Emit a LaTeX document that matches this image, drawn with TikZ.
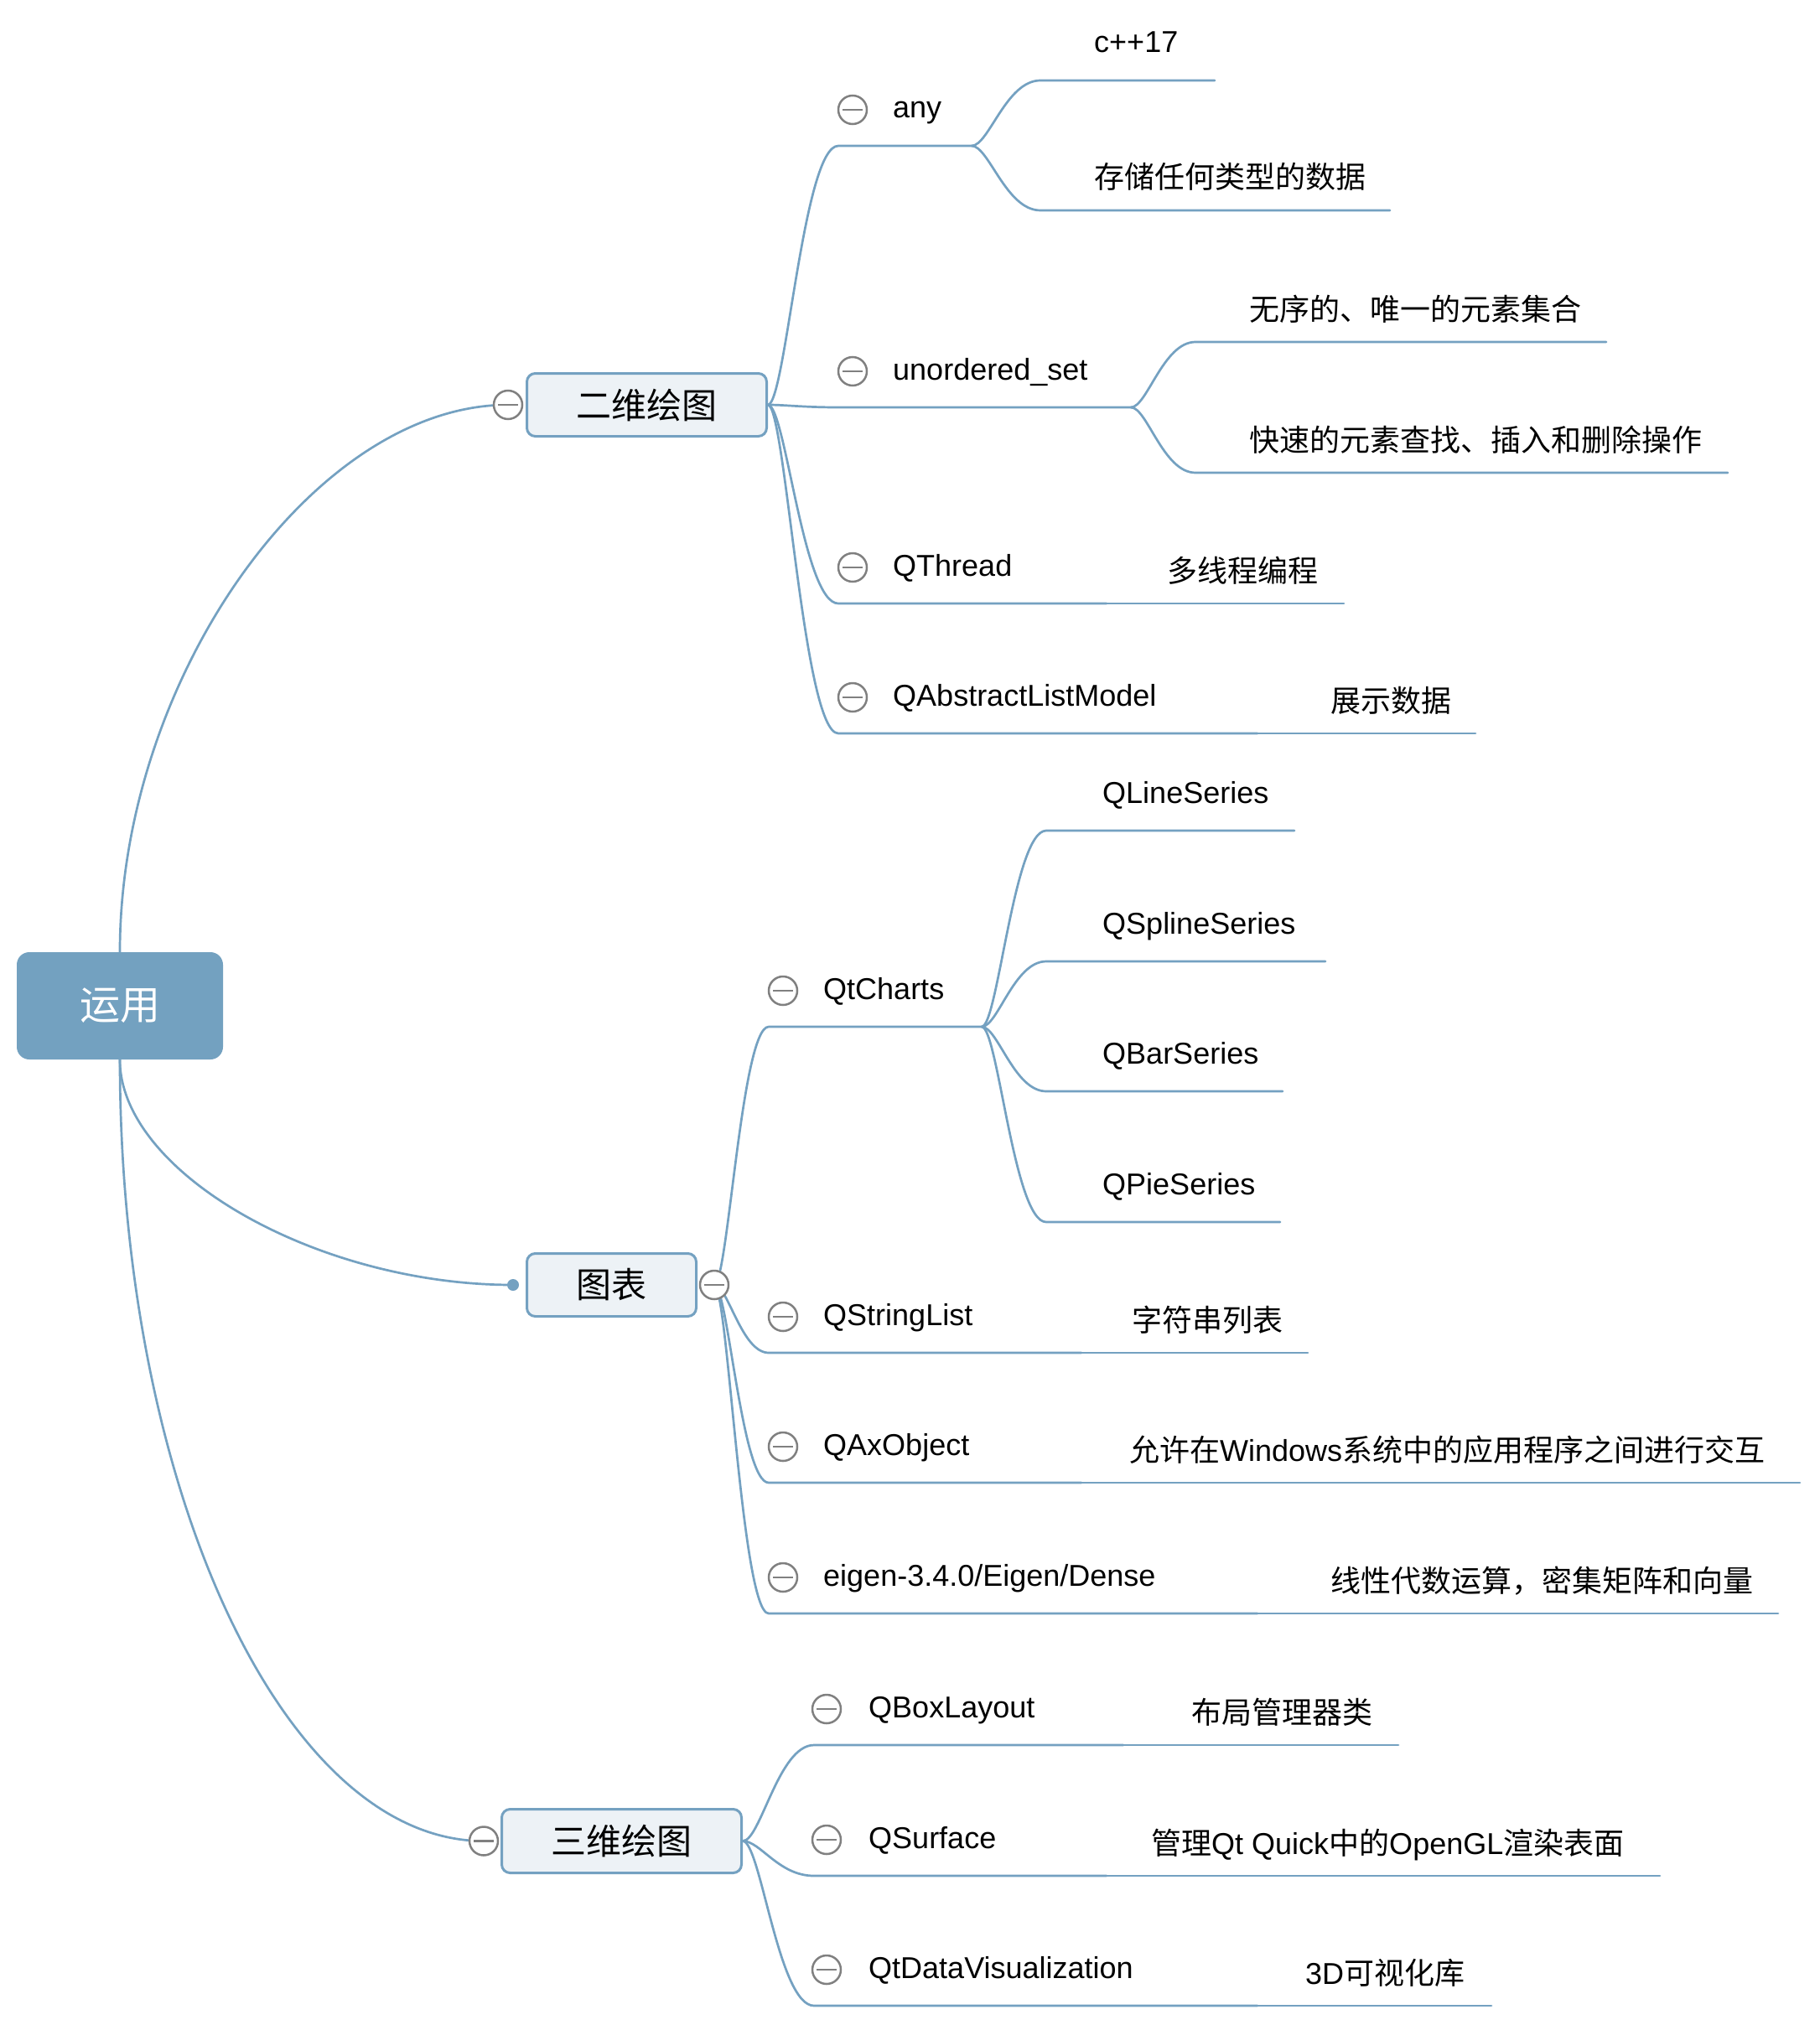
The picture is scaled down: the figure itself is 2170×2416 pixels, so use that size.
\documentclass[tikz,border=0pt]{standalone}
\usepackage{fontspec}
\setmainfont{Liberation Sans}
\newfontfamily\cjk{Noto Sans CJK SC}
\usetikzlibrary{calc}
\definecolor{conncol}{RGB}{116,161,193}
\definecolor{rootfill}{RGB}{115,161,192}
\definecolor{boxfill}{RGB}{237,242,246}
\definecolor{foldgray}{RGB}{128,128,128}
\pgfdeclarelayer{bg}
\pgfsetlayers{bg,main}
\newcommand\branch[3]{\draw[conn] (#1) .. controls ($(#1)!0.25!(#1 -| #2)$) and ($(#2 -| #1)!0.5!(#2)$) .. (#2) -- (#3);}
\newcommand\rootlink[3]{\draw[conn] (#1) .. controls ($(#1)!#3!(#1 |- #2)$) and ($(#2)!#3!(#1 |- #2)$) .. (#2);}
\begin{document}
\begin{tikzpicture}[x=1pt,y=-1pt,
  conn/.style={draw=conncol, line width=2.7pt, line cap=round},
  fold/.style={circle, draw=foldgray, fill=white, line width=2.5pt, minimum size=34pt, inner sep=0pt,
    path picture={\draw[foldgray, line width=2.5pt] ([xshift=-12pt]path picture bounding box.center) -- ([xshift=12pt]path picture bounding box.center);}},
  lbl/.style={anchor=base west, inner sep=0pt, font=\fontsize{36}{40}\selectfont},
  rootbox/.style={rectangle, rounded corners=15pt, fill=rootfill, text=white, font=\cjk\fontsize{48}{56}\selectfont, minimum width=246pt, minimum height=128pt, inner sep=0pt},
  topic/.style={rectangle, rounded corners=10pt, draw=conncol, line width=3pt, fill=boxfill, font=\cjk\fontsize{42}{50}\selectfont, inner sep=0pt},
  dot/.style={circle, fill=conncol, minimum size=14pt, inner sep=0pt}]
\useasboundingbox (0,0) rectangle (2170,2416);

% ---------- main topics ----------
\node[rootbox] (R) at (143,1200) {运用};
\node[topic, minimum width=286pt, minimum height=75pt] (B1) at (771.5,483) {二维绘图};
\node[topic, minimum width=202pt, minimum height=75pt] (B2) at (729.5,1533) {图表};
\node[topic, minimum width=286pt, minimum height=76pt] (B3) at (741.5,2196.5) {三维绘图};
\node[fold] (F1) at (606,483) {};
\node[fold] (F2) at (852,1533) {};
\node[fold] (F3) at (577,2196.5) {};
\node[dot] (D2) at (612,1533) {};

% ---------- 二维绘图 children ----------
\coordinate (anyS) at (1000,174); \coordinate (anyE) at (1159,174);
\node[fold] (anyF) at (1017,131) {};
\node[lbl] (any) at (1065,141) {any};
\coordinate (cppS) at (1241,96); \coordinate (cppE) at (1449,96);
\node[lbl] (cpp) at (1305,63) {c++17};
\coordinate (stoS) at (1241,251); \coordinate (stoE) at (1658,251);
\node[lbl] (sto) at (1305,225) {\cjk 存储任何类型的数据};

\coordinate (usS) at (1000,486); \coordinate (usE) at (1349,486);
\node[fold] (usF) at (1017,443) {};
\node[lbl] (us) at (1065,453) {unordered\_set};
\coordinate (wxS) at (1426,408); \coordinate (wxE) at (1916,408);
\node[lbl] (wx) at (1490,382) {\cjk 无序的、唯一的元素集合};
\coordinate (ksS) at (1426,564); \coordinate (ksE) at (2061,564);
\node[lbl] (ks) at (1490,538) {\cjk 快速的元素查找、插入和删除操作};

\coordinate (qtS) at (1000,720); \coordinate (qtE) at (1320,720); \coordinate (mlE) at (1603,720);
\node[fold] (qtF) at (1017,677) {};
\node[lbl] (qt) at (1065,687) {QThread};
\node[lbl] (ml) at (1392,694) {\cjk 多线程编程};

\coordinate (qalS) at (1000,875); \coordinate (qalE) at (1500,875); \coordinate (zsE) at (1760,875);
\node[fold] (qalF) at (1017,832) {};
\node[lbl] (qal) at (1065,842) {QAbstractListModel};
\node[lbl] (zs) at (1587,849) {\cjk 展示数据};

% ---------- 图表 children ----------
\coordinate (qcS) at (917,1225); \coordinate (qcE) at (1171,1225);
\node[fold] (qcF) at (934,1182) {};
\node[lbl] (qc) at (982,1192) {QtCharts};
\coordinate (lnS) at (1248,991); \coordinate (lnE) at (1544,991);
\node[lbl] (ln) at (1315,958) {QLineSeries};
\coordinate (spS) at (1248,1147); \coordinate (spE) at (1581,1147);
\node[lbl] (sp) at (1315,1114) {QSplineSeries};
\coordinate (brS) at (1248,1302); \coordinate (brE) at (1530,1302);
\node[lbl] (br) at (1315,1269) {QBarSeries};
\coordinate (piS) at (1248,1458); \coordinate (piE) at (1527,1458);
\node[lbl] (pi) at (1315,1425) {QPieSeries};

\coordinate (qslS) at (917,1614); \coordinate (qslE) at (1290,1614); \coordinate (zfE) at (1560,1614);
\node[fold] (qslF) at (934,1571) {};
\node[lbl] (qsl) at (982,1581) {QStringList};
\node[lbl] (zf) at (1350,1588) {\cjk 字符串列表};

\coordinate (qaxS) at (917,1769); \coordinate (qaxE) at (1290,1769); \coordinate (yxE) at (2147,1769);
\node[fold] (qaxF) at (934,1726) {};
\node[lbl] (qax) at (982,1736) {QAxObject};
\node[lbl] (yx) at (1347,1743) {{\cjk 允许在}Windows{\cjk 系统中的应用程序之间进行交互}};

\coordinate (eiS) at (917,1925); \coordinate (eiE) at (1500,1925); \coordinate (xxE) at (2121,1925);
\node[fold] (eiF) at (934,1882) {};
\node[lbl] (ei) at (982,1892) {eigen-3.4.0/Eigen/Dense};
\node[lbl] (xx) at (1587,1899) {\cjk 线性代数运算，密集矩阵和向量};

% ---------- 三维绘图 children ----------
\coordinate (qblS) at (971,2082); \coordinate (qblE) at (1340,2082); \coordinate (bjE) at (1668,2082);
\node[fold] (qblF) at (986,2039) {};
\node[lbl] (qbl) at (1036,2049) {QBoxLayout};
\node[lbl] (bj) at (1421,2056) {\cjk 布局管理器类};

\coordinate (qsfS) at (971,2238); \coordinate (qsfE) at (1320,2238); \coordinate (glE) at (1980,2238);
\node[fold] (qsfF) at (986,2195) {};
\node[lbl] (qsf) at (1036,2205) {QSurface};
\node[lbl] (gl) at (1373,2212) {{\cjk 管理}Qt Quick{\cjk 中的}OpenGL{\cjk 渲染表面}};

\coordinate (qdvS) at (971,2393); \coordinate (qdvE) at (1500,2393); \coordinate (sdE) at (1779,2393);
\node[fold] (qdvF) at (986,2350) {};
\node[lbl] (qdv) at (1036,2360) {QtDataVisualization};
\node[lbl] (sd) at (1557,2367) {3D{\cjk 可视化库}};

% ---------- connectors ----------
\begin{pgfonlayer}{bg}
\fill[white] (0,0) rectangle (2170,2416);
\rootlink{R.north}{F1.center}{0.5}
\rootlink{R.south}{D2.center}{0.5}
\rootlink{R.south}{F3.center}{0.55}

\branch{B1.east}{anyS}{anyE}
\branch{anyE}{cppS}{cppE}
\branch{anyE}{stoS}{stoE}
\branch{B1.east}{usS}{usE}
\branch{usE}{wxS}{wxE}
\branch{usE}{ksS}{ksE}
\branch{B1.east}{qtS}{qtE}
\draw[conn] (qtE) -- (mlE);
\branch{B1.east}{qalS}{qalE}
\draw[conn] (qalE) -- (zsE);

\branch{F2.center}{qcS}{qcE}
\branch{qcE}{lnS}{lnE}
\branch{qcE}{spS}{spE}
\branch{qcE}{brS}{brE}
\branch{qcE}{piS}{piE}
\branch{F2.center}{qslS}{qslE}
\draw[conn] (qslE) -- (zfE);
\branch{F2.center}{qaxS}{qaxE}
\draw[conn] (qaxE) -- (yxE);
\branch{F2.center}{eiS}{eiE}
\draw[conn] (eiE) -- (xxE);

\branch{B3.east}{qblS}{qblE}
\draw[conn] (qblE) -- (bjE);
\branch{B3.east}{qsfS}{qsfE}
\draw[conn] (qsfE) -- (glE);
\branch{B3.east}{qdvS}{qdvE}
\draw[conn] (qdvE) -- (sdE);
\end{pgfonlayer}
\end{tikzpicture}
\end{document}
